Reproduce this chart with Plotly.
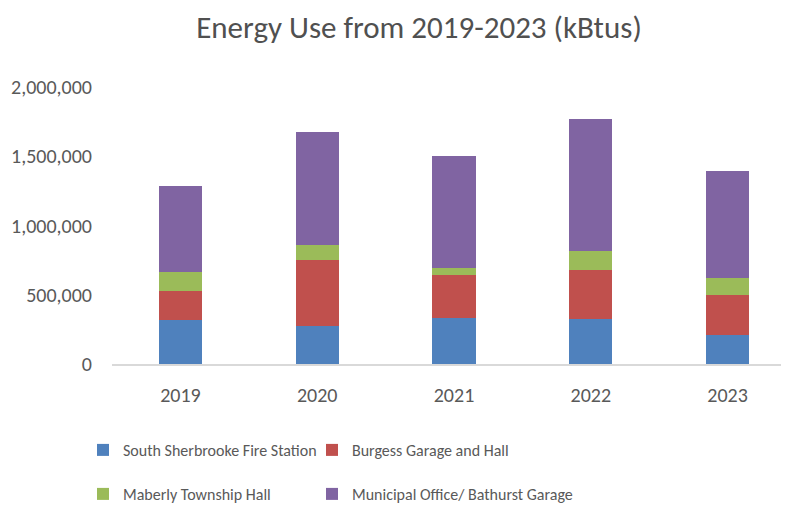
import plotly.graph_objects as go

years = ["2019", "2020", "2021", "2022", "2023"]
south_sherbrooke = [321000, 276000, 329000, 324000, 209000]
burgess = [207000, 473000, 312000, 356000, 288000]
maberly = [137000, 108000, 51000, 139000, 123000]
municipal = [622000, 817000, 809000, 953000, 773000]

series_names = ["South Sherbrooke Fire Station", "Burgess Garage and Hall",
                "Maberly Township Hall", "Municipal Office/ Bathurst Garage"]
series_values = [south_sherbrooke, burgess, maberly, municipal]
colors = ["#4F81BD", "#C0504D", "#9BBB59", "#8064A2"]
legend_ids = ["legend", "legend2", "legend3", "legend4"]

FONT = "Carlito, 'Liberation Sans Narrow', Lato, 'Open Sans', sans-serif"
GRAY = "#595959"

fig = go.Figure()
for name, vals, col, lg in zip(series_names, series_values, colors, legend_ids):
    fig.add_trace(go.Bar(x=years, y=vals, name=name, marker_color=col,
                         marker_line_width=0, width=0.315, legend=lg, showlegend=True))

W, H = 789, 506
OFF = 8  # page body offset

# legend placement (window pixels): (left x of legend box, row centre y)
legend_pos = [(75, 450), (304, 450), (75, 494), (304, 494)]

layout_legends = {}
for lg, (lx, ly) in zip(legend_ids, legend_pos):
    layout_legends[lg] = dict(orientation="h", xref="container", yref="container",
                              x=lx / W, y=1 - (ly - OFF) / H, xanchor="left", yanchor="middle",
                              font=dict(family=FONT, size=16, color=GRAY),
                              bgcolor="rgba(0,0,0,0)", visible=True)

fig.update_layout(
    width=W, height=H,
    barmode="stack",
    showlegend=True,
    paper_bgcolor="white", plot_bgcolor="white",
    margin=dict(l=103.5, r=0.5, t=78.7, b=149.7, autoexpand=False),
    font=dict(family=FONT, color=GRAY, size=20),
    title=dict(text="Energy Use from 2019-2023 (kBtus)", x=(419 - OFF) / W, xref="container",
               xanchor="center", y=1 - (27 - OFF) / H, yref="container", yanchor="middle",
               font=dict(family=FONT, size=31, color="#505050")),
    xaxis=dict(type="category", range=[-0.5, 4.5], showgrid=False,
               showline=True, linecolor="#D9D9D9", linewidth=1.5,
               ticks="", ticklabelstandoff=12, tickfont=dict(size=20, color=GRAY)),
    yaxis=dict(range=[0, 2000000], tickvals=[0, 500000, 1000000, 1500000, 2000000],
               tickformat=",d", showgrid=False, showline=False, zeroline=False,
               ticks="", ticklabelstandoff=19, tickfont=dict(size=20, color=GRAY)),
    **layout_legends,
)

fig.write_html("out.html")
